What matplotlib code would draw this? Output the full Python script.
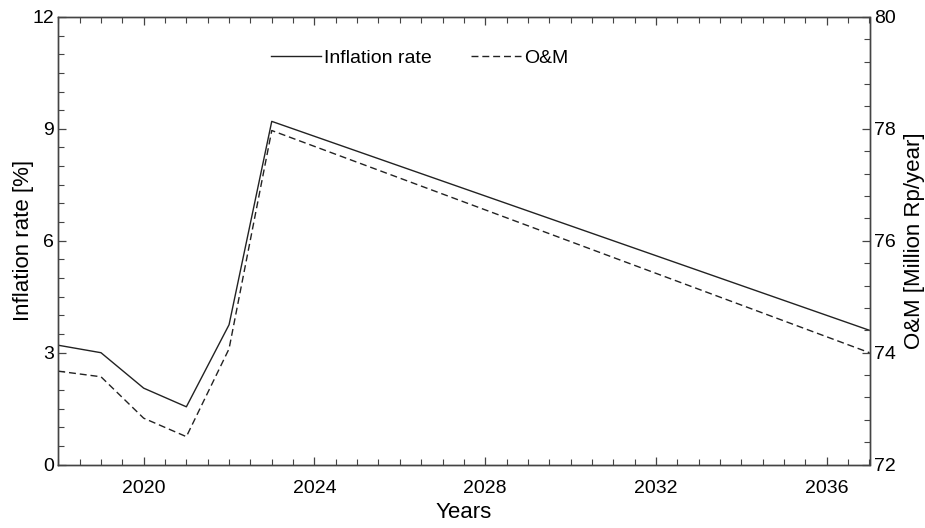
import numpy as np
from matplotlib import pyplot as plt
from matplotlib.ticker import MultipleLocator

plt.rcParams['font.family'] = ['Liberation Sans', 'DejaVu Sans']

years = [2018, 2019, 2020, 2021, 2022, 2023, 2037]
inflation = [3.2, 3.0, 2.05, 1.55, 3.75, 9.2, 3.6]
om_cost = [73.67, 73.57, 72.83, 72.5, 74.07, 77.97, 74.0]

x_ticks = [2020, 2024, 2028, 2032, 2036]
left_ticks = [0, 3, 6, 9, 12]
right_ticks = [72, 74, 76, 78, 80]

fig = plt.figure(figsize=(9.25, 5.28), dpi=100)
ax = fig.add_axes([0.063, 0.12, 0.877, 0.848])
ax2 = ax.twinx()

line1, = ax.plot(years, inflation, linestyle='-', linewidth=1.0, color='#222222', label='Inflation rate')
line2, = ax2.plot(years, om_cost, linestyle=(0, (5, 2.8)), linewidth=1.0, color='#222222', label='O&M')

ax.set_xlim((2018, 2037))
ax.set_ylim((0, 12))
ax2.set_ylim((72, 80))

ax.xaxis.set_ticks(x_ticks)
ax.xaxis.set_minor_locator(MultipleLocator(0.5))
ax.yaxis.set_ticks(left_ticks)
ax.yaxis.set_minor_locator(MultipleLocator(0.5))
ax2.yaxis.set_ticks(right_ticks)
ax2.yaxis.set_minor_locator(MultipleLocator(0.4))

ax.tick_params(which='both', direction='in', top=True, right=False, colors='#444444',
               labelcolor='black', labelsize=14)
ax.tick_params(which='major', length=6, width=0.9)
ax.tick_params(which='minor', length=4, width=0.8)
ax.tick_params(axis='x', which='both', pad=11)
ax.tick_params(axis='y', which='both', pad=3)
ax2.tick_params(which='both', direction='in', colors='#444444', labelcolor='black',
                labelsize=14, pad=3)
ax2.tick_params(which='major', length=6, width=0.9)
ax2.tick_params(which='minor', length=4, width=0.8)

for a in (ax, ax2):
    for s in a.spines.values():
        s.set_color('#444444')
        s.set_linewidth(1.0)

ax.set_xlabel('Years', fontsize=16, labelpad=4)
ax.set_ylabel('Inflation rate [%]', fontsize=16, labelpad=-1)
ax2.set_ylabel('O&M [Million Rp/year]', fontsize=16, labelpad=6)

ax.legend([line1, line2], ['Inflation rate', 'O&M'], ncol=2, frameon=False, fontsize=14,
          loc='center left', bbox_to_anchor=(0.262, 0.908), borderaxespad=0, borderpad=0,
          handlelength=2.6, handletextpad=0.15, columnspacing=2.0)

fig.savefig('out.png', dpi=100)
